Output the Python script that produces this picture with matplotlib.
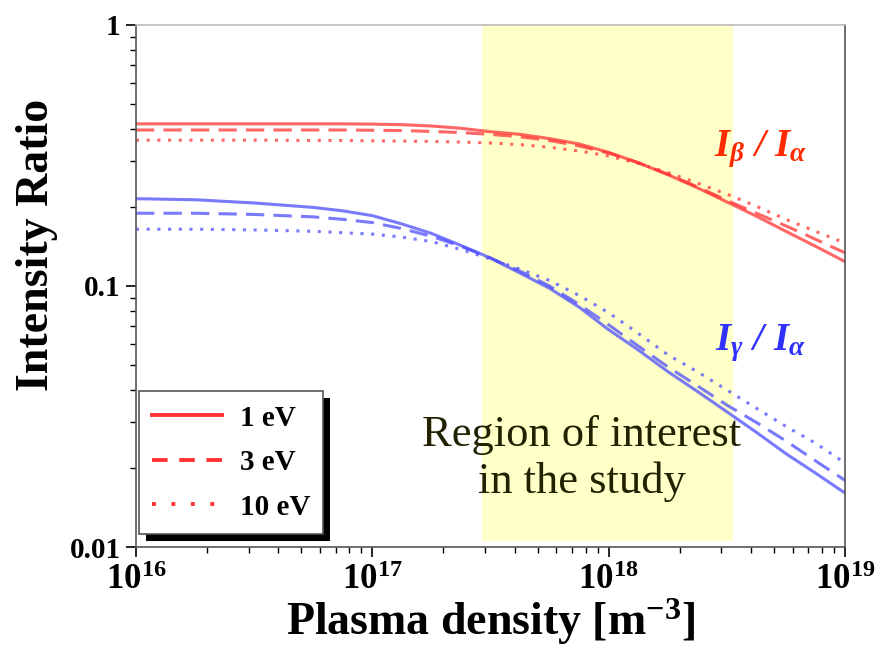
import numpy as np
import matplotlib
matplotlib.use("Agg")
import matplotlib.pyplot as plt
from matplotlib.lines import Line2D
from matplotlib.patches import Rectangle
from matplotlib.ticker import LogLocator, NullFormatter

plt.rcParams['font.family'] = ['Liberation Serif', 'DejaVu Serif']
plt.rcParams['mathtext.fontset'] = 'custom'
plt.rcParams['mathtext.rm'] = 'Liberation Serif:bold'
plt.rcParams['mathtext.bf'] = 'Liberation Serif:bold'
plt.rcParams['mathtext.it'] = 'Liberation Serif:italic:bold'

density = [1e16, 1.78e16, 3.16e16, 5.62e16, 7.5e16, 1e17, 1.33e17, 1.78e17, 2.37e17,
           3.16e17, 4.22e17, 5.62e17, 7.5e17, 1e18, 1.33e18, 1.78e18, 2.37e18,
           3.16e18, 4.22e18, 5.62e18, 7.5e18, 1e19]
beta_1eV = [.418, .418, .418, .418, .418, .417, .415, .410, .402, .390, .381, .367,
            .350, .325, .297, .267, .238, .210, .185, .162, .142, .124]
beta_3eV = [.396, .396, .396, .396, .396, .395, .394, .391, .387, .381, .373, .361,
            .344, .323, .297, .268, .240, .213, .190, .170, .151, .134]
beta_10eV = [.362, .362, .362, .361, .361, .360, .359, .358, .356, .353, .348, .340,
             .329, .315, .295, .272, .248, .225, .202, .180, .162, .146]
gamma_1eV = [.216, .214, .208, .200, .194, .186, .173, .159, .143, .128, .112, .098,
             .083, .068, .057, .047, .0395, .033, .0275, .0228, .0192, .0161]
gamma_3eV = [.190, .190, .188, .184, .180, .175, .166, .155, .142, .128, .114, .100,
             .085, .071, .059, .049, .0415, .035, .030, .0255, .0214, .018]
gamma_10eV = [.165, .165, .164, .162, .160, .158, .154, .148, .138, .127, .116, .105,
              .092, .079, .066, .0545, .047, .040, .034, .029, .025, .021]
region = (2.9e17, 3.35e18)
legend_labels = ["1 eV", "3 eV", "10 eV"]

fig = plt.figure(figsize=(8.75, 6.57), dpi=100)
ax = fig.add_axes([0.1554, 0.1674, 0.8103, 0.7946])

ax.axvspan(region[0], region[1], ymin=0.012, ymax=1, color='#ffffc8', zorder=0, lw=0)

red = (1.0, 0.2, 0.2)
blue = (0.3, 0.3, 1.0)
styles = ['-', (0, (6, 3)), (0, (1, 2.5))]
for vals, ls in zip([beta_1eV, beta_3eV, beta_10eV], styles):
    ax.plot(density, vals, color=red, alpha=0.75, lw=2.2, linestyle=ls)
for vals, ls in zip([gamma_1eV, gamma_3eV, gamma_10eV], styles):
    ax.plot(density, vals, color=blue, alpha=0.75, lw=2.2, linestyle=ls)

ax.set_xscale('log')
ax.set_yscale('log')
ax.set_xlim(1e16, 1e19)
ax.set_ylim(0.01, 1)

ax.set_xticks([1e16, 1e17, 1e18, 1e19])
ax.set_xticklabels([r'$\mathbf{10^{16}}$', r'$\mathbf{10^{17}}$', r'$\mathbf{10^{18}}$', r'$\mathbf{10^{19}}$'])
ax.set_yticks([0.01, 0.1, 1])
ax.set_yticklabels(['0.01', '0.1', '1'])
ax.xaxis.set_minor_locator(LogLocator(base=10, subs=np.arange(2, 10)))
ax.yaxis.set_minor_locator(LogLocator(base=10, subs=np.arange(2, 10)))
ax.xaxis.set_minor_formatter(NullFormatter())
ax.yaxis.set_minor_formatter(NullFormatter())

ax.tick_params(which='major', direction='out', length=7, width=1.2, labelsize=21, pad=4)
ax.tick_params(axis='x', which='major', labelsize=25, pad=5)
ax.tick_params(which='minor', direction='out', length=4, width=1.0)
for lab in ax.get_xticklabels() + ax.get_yticklabels():
    lab.set_fontweight('bold')
    lab.set_color('black')
for sp in ax.spines.values():
    sp.set_color('#555555')
    sp.set_linewidth(1.2)
ax.spines['top'].set_color('#bbbbbb')

ax.set_ylabel('Intensity Ratio', fontsize=33, fontweight='bold')
ax.yaxis.set_label_coords(-0.11, 0.579)
ax.set_xlabel(r'Plasma density [m$^{\mathbf{-3}}$]', fontsize=33, fontweight='bold', labelpad=0)

ax.text(7.7e17, 0.0218, 'Region of interest\nin the study', ha='center', va='center',
        fontsize=32, color='#222200', linespacing=1.2)
ax.text(4.4e18, 0.335, r'$I_{\beta}$ / $I_{\alpha}$', color='#ff2a00', fontsize=28,
        fontweight='bold', style='italic', ha='center', va='center')
ax.text(4.4e18, 0.0605, r'$I_{\gamma}$ / $I_{\alpha}$', color='#3030ff', fontsize=28,
        fontweight='bold', style='italic', ha='center', va='center')

handles = [Line2D([0], [0], color='red', lw=2.8, linestyle=ls, alpha=0.8) for ls in
           ['-', (0, (4, 3)), (0, (1, 4))]]
leg = ax.legend(handles, legend_labels, loc='lower left', bbox_to_anchor=(0.0, 0.02),
                borderaxespad=0.1,
                prop={'weight': 'bold', 'size': 21}, frameon=True, framealpha=1,
                fancybox=False, shadow=False, edgecolor='#555555',
                handlelength=2.4, handletextpad=0.6, borderpad=0.45, labelspacing=0.6)
leg.get_frame().set_linewidth(1.2)
leg.set_zorder(10)

fig.canvas.draw()
bb = leg.get_frame().get_window_extent()
off = 7
shadow = Rectangle((bb.x0 + off, bb.y0 - off), bb.width, bb.height, transform=None,
                   facecolor='black', edgecolor='none', zorder=9, clip_on=False)
ax.add_artist(shadow)

fig.savefig('out.png', dpi=100)
